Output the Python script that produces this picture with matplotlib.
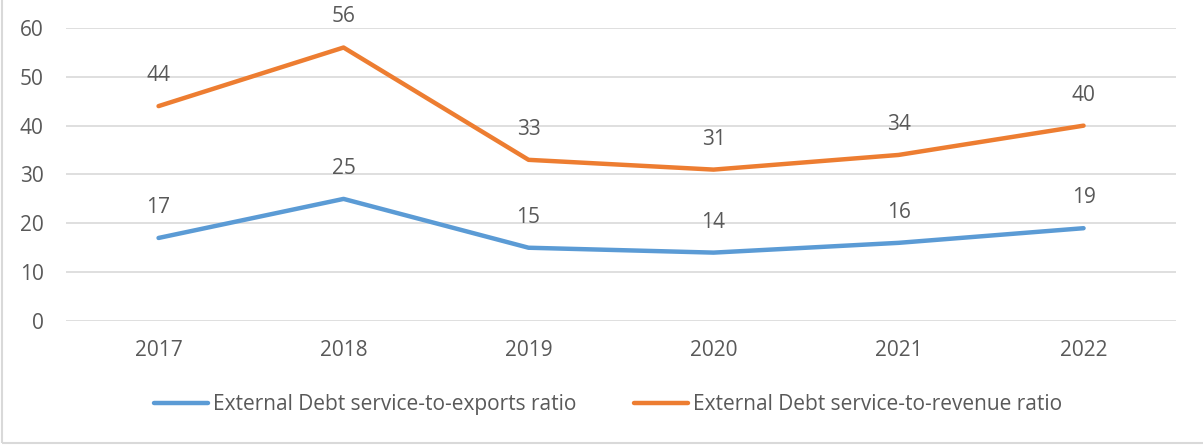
import matplotlib
matplotlib.use("Agg")
import matplotlib.pyplot as plt
from matplotlib.patches import Rectangle
from matplotlib.lines import Line2D

years = ["2017", "2018", "2019", "2020", "2021", "2022"]
exports_ratio = [17, 25, 15, 14, 16, 19]
revenue_ratio = [44, 56, 33, 31, 34, 40]
yticks = [0, 10, 20, 30, 40, 50, 60]

plt.rcParams["font.family"] = ["Open Sans", "DejaVu Sans"]
text_color = "#595959"
blue = "#5B9BD5"
orange = "#ED7D31"
fs = 15

fig = plt.figure(figsize=(12.03, 4.45), dpi=100)
ax = fig.add_axes([0.0549, 0.2787, 0.9227, 0.6584])

x = list(range(len(years)))
ax.plot(x, exports_ratio, color=blue, lw=3.2, solid_capstyle="round",
        solid_joinstyle="round", label="External Debt service-to-exports ratio")
ax.plot(x, revenue_ratio, color=orange, lw=3.2, solid_capstyle="round",
        solid_joinstyle="round", label="External Debt service-to-revenue ratio")

for series in (exports_ratio, revenue_ratio):
    for xi, v in zip(x, series):
        ax.annotate(str(v), (xi, v), xytext=(0, 22), textcoords="offset points",
                    ha="center", va="center", fontsize=fs, color=text_color)

ax.set_xlim(-0.5, len(years) - 0.5)
ax.set_ylim(0, 60)
ax.set_yticks(yticks)
ax.set_xticks(x)
ax.set_xticklabels(years)
ax.tick_params(axis="both", length=0, labelsize=fs, colors=text_color)
ax.tick_params(axis="y", pad=16)
ax.tick_params(axis="x", pad=14)
ax.grid(axis="y", color="#D9D9D9", lw=1.2)
ax.set_axisbelow(True)
for s in ax.spines.values():
    s.set_visible(False)

handles = [Line2D([0], [0], color=blue, lw=3.2, solid_capstyle="round"),
           Line2D([0], [0], color=orange, lw=3.2, solid_capstyle="round")]
labels = ["External Debt service-to-exports ratio",
          "External Debt service-to-revenue ratio"]
leg = fig.legend(handles, labels, loc="center", bbox_to_anchor=(0.5054, 0.09),
                 ncol=2, frameon=False, fontsize=fs, handlelength=2.6,
                 handletextpad=0.2, columnspacing=2.8)
for t in leg.get_texts():
    t.set_color(text_color)

# outer chart border
fig.patches.append(Rectangle((0.002, 0.004), 1.2, 1.2, transform=fig.transFigure,
                             fill=False, edgecolor="#D9D9D9", lw=1.5))

fig.savefig("out.png", dpi=100)
